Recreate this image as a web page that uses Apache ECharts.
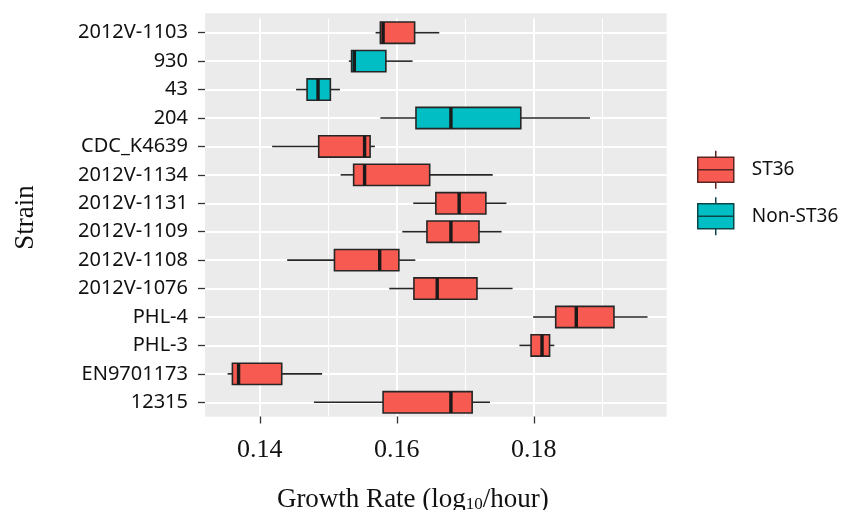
<!DOCTYPE html>
<html>
<head>
<meta charset="utf-8">
<script src="https://cdn.jsdelivr.net/npm/echarts@6/dist/echarts.min.js"></script>
<style>html,body{margin:0;padding:0;background:#fff}#c{width:846px;height:510px}</style>
</head>
<body>
<div id="c"></div>
<script>
// Categories, bottom to top (category axis order)
const categories = ['12315','EN9701173','PHL-3','PHL-4','2012V-1076','2012V-1108','2012V-1109','2012V-1131','2012V-1134','CDC_K4639','204','43','930','2012V-1103'];

// ST36 strains: [min, q1, median, q3, max]
const st36Strains = ['12315','EN9701173','PHL-3','PHL-4','2012V-1076','2012V-1108','2012V-1109','2012V-1131','2012V-1134','CDC_K4639','2012V-1103'];
const st36Stats = [
  [0.1479, 0.1580, 0.1679, 0.1710, 0.1736],
  [0.1353, 0.1360, 0.1369, 0.1432, 0.1491],
  [0.1779, 0.1796, 0.1812, 0.1823, 0.1830],
  [0.1799, 0.1832, 0.1862, 0.1917, 0.1966],
  [0.1589, 0.1625, 0.1659, 0.1717, 0.1769],
  [0.1440, 0.1509, 0.1575, 0.1603, 0.1627],
  [0.1608, 0.1644, 0.1679, 0.1720, 0.1753],
  [0.1624, 0.1657, 0.1691, 0.1730, 0.1760],
  [0.1518, 0.1537, 0.1553, 0.1648, 0.1740],
  [0.1418, 0.1486, 0.1553, 0.1561, 0.1568],
  [0.1569, 0.1576, 0.1580, 0.1626, 0.1662]
];

// Non-ST36 strains
const nonStrains = ['204','43','930'];
const nonStats = [
  [0.1576, 0.1628, 0.1679, 0.1781, 0.1882],
  [0.1453, 0.1469, 0.1485, 0.1503, 0.1517],
  [0.1530, 0.1534, 0.1538, 0.1584, 0.1623]
];

// Axis
const xMin = 0.1320, xMax = 0.1994;
const majorTicks = [0.14, 0.16, 0.18];
const minorTicks = [0.15, 0.17, 0.19];

const seriesNames = ['ST36', 'Non-ST36'];
const fillColors = ['#F65A50', '#00BEC3'];
const legendBorder = ['#5a2522', '#0d4647'];

const boxIcon = 'path://M18,0L18,6.5M0,6.5L36,6.5L36,31.5L0,31.5ZM0,19L36,19M18,31.5L18,38';

function makeRender(color) {
  return function (params, api) {
    const cat = api.value(0);
    const pMin = api.coord([api.value(1), cat]);
    const pQ1 = api.coord([api.value(2), cat]);
    const pMed = api.coord([api.value(3), cat]);
    const pQ3 = api.coord([api.value(4), cat]);
    const pMax = api.coord([api.value(5), cat]);
    const h = api.size([0, 1])[1] * 0.75;
    const y = pMed[1];
    const lineStyle = { stroke: '#262626', lineWidth: 1.6 };
    return {
      type: 'group',
      children: [
        { type: 'line', shape: { x1: pMin[0], y1: y, x2: pQ1[0], y2: y }, style: lineStyle },
        { type: 'line', shape: { x1: pQ3[0], y1: y, x2: pMax[0], y2: y }, style: lineStyle },
        { type: 'rect', shape: { x: pQ1[0], y: y - h / 2, width: pQ3[0] - pQ1[0], height: h },
          style: { fill: color, stroke: '#262626', lineWidth: 1.6 } },
        { type: 'line', shape: { x1: pMed[0], y1: y - h / 2, x2: pMed[0], y2: y + h / 2 },
          style: { stroke: '#1a1a1a', lineWidth: 3.4 } }
      ]
    };
  };
}

const chart = echarts.init(document.getElementById('c'), null, { renderer: 'canvas' });

const option = {
  animation: false,
  backgroundColor: '#ffffff',
  grid: [
    { left: 205, right: 179.3, top: 18.5, bottom: 93.5, show: false, containLabel: false, outerBoundsMode: 'none' },
    { left: 205, right: 179.3, top: 13.3, bottom: 93.3, show: true, backgroundColor: '#EBEBEB', borderWidth: 0, z: -10, outerBoundsMode: 'none' }
  ],
  legend: {
    orient: 'vertical',
    left: 697,
    top: 150,
    padding: 0,
    itemWidth: 36,
    itemHeight: 38,
    itemGap: 7,
    selectedMode: false,
    textStyle: { fontFamily: 'Noto Sans', fontSize: 19, color: '#111', padding: [0, 0, 0, 13] },
    data: seriesNames.map((n, i) => ({
      name: n,
      icon: boxIcon,
      itemStyle: { color: fillColors[i], borderColor: legendBorder[i], borderWidth: 1.5 }
    }))
  },
  xAxis: [
    {
      type: 'value', gridIndex: 0, min: xMin, max: xMax, position: 'bottom',
      axisLine: { show: false },
      axisTick: { show: true, length: 7, customValues: majorTicks, lineStyle: { color: '#333', width: 1.3 } },
      axisLabel: { customValues: majorTicks, margin: 21, fontFamily: 'Liberation Serif', fontSize: 26, color: '#111',
        formatter: v => v.toFixed(2) },
      splitLine: { show: true, lineStyle: { color: '#ffffff', width: 2 } },
      name: '{a|Growth Rate (log}{s|10}{a|/hour)}',
      nameLocation: 'middle',
      nameGap: 69,
      nameTextStyle: {
        padding: [0, 46, 0, 0],
        rich: {
          a: { fontFamily: 'Liberation Serif', fontSize: 27, color: '#111', lineHeight: 28 },
          s: { fontFamily: 'Liberation Serif', fontSize: 17, color: '#111', lineHeight: 16, verticalAlign: 'bottom' }
        }
      }
    },
    {
      type: 'value', gridIndex: 0, min: xMin, max: xMax, position: 'top',
      axisLine: { show: false },
      axisTick: { show: false, customValues: minorTicks },
      axisLabel: { show: false, customValues: minorTicks },
      splitLine: { show: true, lineStyle: { color: '#ffffff', width: 1.1 } }
    },
    { type: 'value', gridIndex: 1, show: false, min: 0, max: 1 }
  ],
  yAxis: [
    {
      type: 'category', gridIndex: 0, data: categories,
      axisLine: { show: false },
      axisTick: { show: true, alignWithLabel: true, interval: 0, length: 7, lineStyle: { color: '#333', width: 1.3 } },
      axisLabel: { interval: 0, margin: 17, fontFamily: 'Noto Sans', fontSize: 20, color: '#111' },
      splitLine: { show: true, alignWithLabel: true, interval: 0, lineStyle: { color: '#ffffff', width: 1.8 } },
      name: 'Strain',
      nameLocation: 'middle',
      nameGap: 166,
      nameRotate: 90,
      nameTextStyle: { fontFamily: 'Liberation Serif', fontSize: 27, color: '#111' }
    },
    { type: 'value', gridIndex: 1, show: false, min: 0, max: 1 }
  ],
  series: [
    {
      name: 'ST36', type: 'custom', xAxisIndex: 0, yAxisIndex: 0,
      renderItem: makeRender(fillColors[0]),
      itemStyle: { color: fillColors[0] },
      encode: { y: 0, x: [1, 2, 3, 4, 5] },
      data: st36Strains.map((s, i) => [s].concat(st36Stats[i]))
    },
    {
      name: 'Non-ST36', type: 'custom', xAxisIndex: 0, yAxisIndex: 0,
      renderItem: makeRender(fillColors[1]),
      itemStyle: { color: fillColors[1] },
      encode: { y: 0, x: [1, 2, 3, 4, 5] },
      data: nonStrains.map((s, i) => [s].concat(nonStats[i]))
    }
  ]
};
chart.setOption(option);
</script>
</body>
</html>
